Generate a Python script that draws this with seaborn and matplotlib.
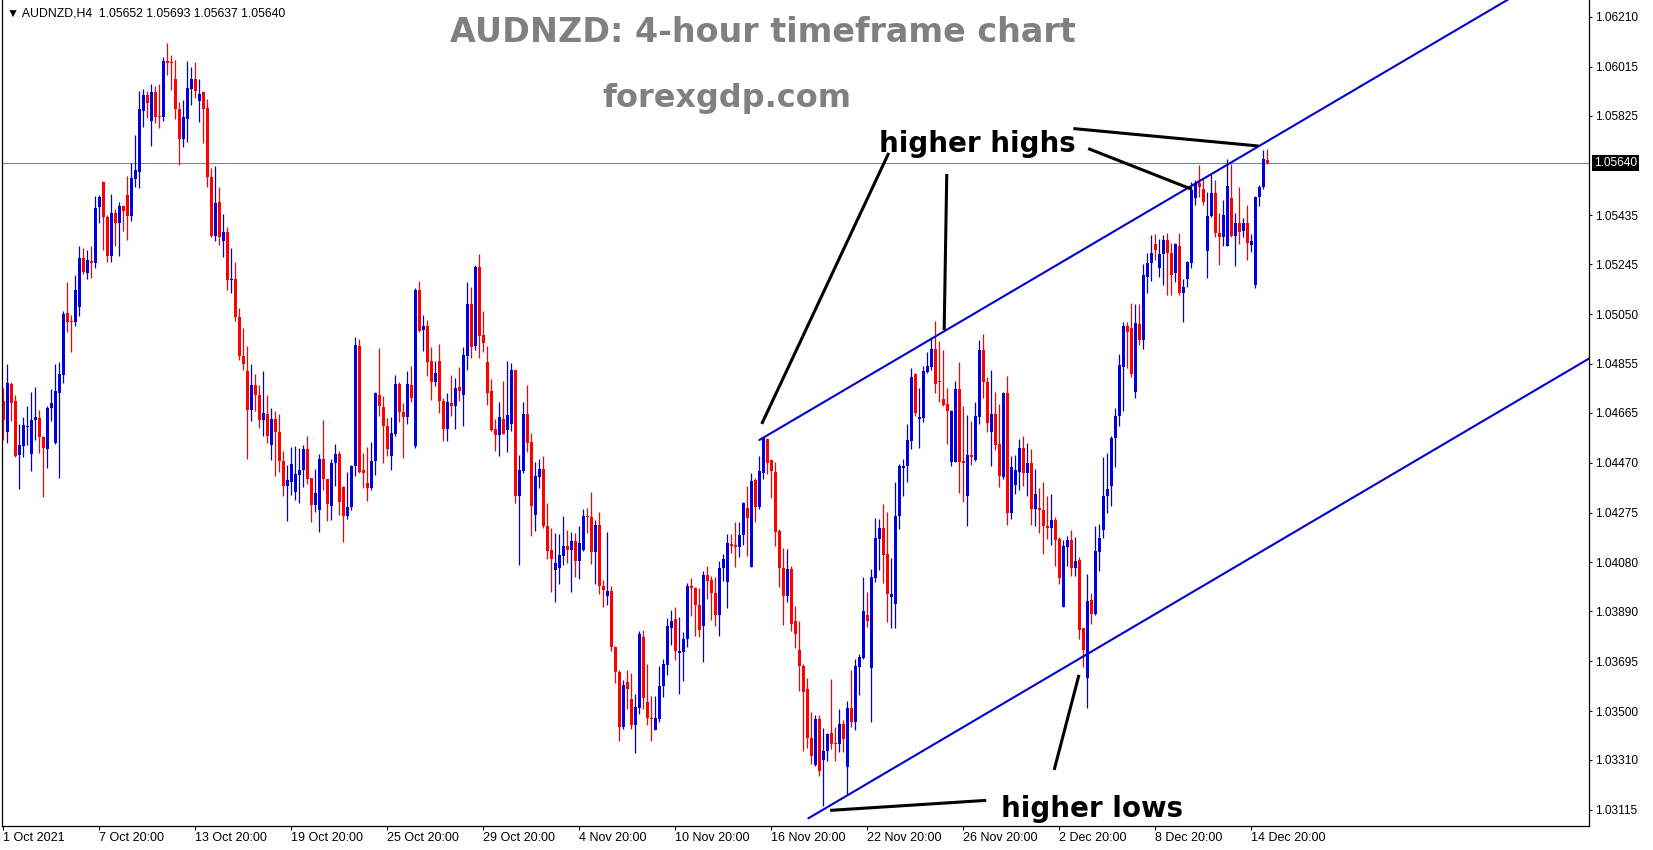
import numpy as np
import pandas as pd
import matplotlib
matplotlib.use('Agg')
import matplotlib.pyplot as plt
import matplotlib.transforms as mtransforms
import seaborn as sns

# AUDNZD H4 candles (bar 0 = first visible bar)
opens = [
    1.04709, 1.04589, 1.04778, 1.04709, 1.04498, 1.04534, 1.04609, 1.04505, 1.04635, 1.04644,
    1.04570, 1.04524, 1.04684, 1.04547, 1.04742, 1.04811, 1.05054, 1.05024, 1.05018, 1.05078,
    1.05269, 1.05210, 1.05258, 1.05249, 1.05467, 1.05565, 1.05428, 1.05275, 1.05444, 1.05405,
    1.05473, 1.05515, 1.05434, 1.05577, 1.05606, 1.05844, 1.05906, 1.05805, 1.05916, 1.05824,
    1.05818, 1.06038, 1.06032, 1.05967, 1.05852, 1.05733, 1.05813, 1.05930, 1.05967, 1.05883,
    1.05915, 1.05853, 1.05584, 1.05356, 1.05487, 1.05337, 1.05370, 1.05181, 1.05187, 1.05038,
    1.04888, 1.04827, 1.04674, 1.04774, 1.04735, 1.04635, 1.04661, 1.04537, 1.04642, 1.04590,
    1.04478, 1.04378, 1.04394, 1.04355, 1.04420, 1.04440, 1.04521, 1.04408, 1.04303, 1.04284,
    1.04482, 1.04404, 1.04302, 1.04468, 1.04504, 1.04374, 1.04263, 1.04296, 1.04455, 1.04926,
    1.04442, 1.04390, 1.04370, 1.04475, 1.04734, 1.04686, 1.04614, 1.04494, 1.04582, 1.04777,
    1.04669, 1.04647, 1.04774, 1.04533, 1.05144, 1.04988, 1.05004, 1.04867, 1.04786, 1.04867,
    1.04709, 1.04602, 1.04702, 1.04692, 1.04764, 1.04734, 1.04887, 1.05089, 1.04926, 1.05232,
    1.04967, 1.04863, 1.04750, 1.04601, 1.04579, 1.04639, 1.04598, 1.04621, 1.04832, 1.04338,
    1.04436, 1.04659, 1.04549, 1.04266, 1.04413, 1.04445, 1.04224, 1.04130, 1.04052, 1.04059,
    1.04107, 1.04146, 1.04127, 1.04165, 1.04085, 1.04127, 1.04263, 1.04256, 1.04121, 1.04228,
    1.03989, 1.03948, 1.03968, 1.03751, 1.03653, 1.03438, 1.03612, 1.03545, 1.03444, 1.03513,
    1.03790, 1.03537, 1.03472, 1.03427, 1.03469, 1.03596, 1.03680, 1.03823, 1.03858, 1.03728,
    1.03732, 1.03780, 1.03988, 1.03979, 1.03914, 1.03833, 1.04031, 1.04012, 1.03960, 1.03875,
    1.04057, 1.04002, 1.04152, 1.04148, 1.04142, 1.04187, 1.04291, 1.04064, 1.04402, 1.04298,
    1.04431, 1.04561, 1.04480, 1.04434, 1.04204, 1.04057, 1.03950, 1.04054, 1.03853, 1.03739,
    1.03677, 1.03584, 1.03395, 1.03288, 1.03470, 1.03308, 1.03344, 1.03415, 1.03373, 1.03370,
    1.03448, 1.03282, 1.03513, 1.03457, 1.03672, 1.03707, 1.03876, 1.03668, 1.04019, 1.04172,
    1.04215, 1.04114, 1.03945, 1.03919, 1.04260, 1.04449, 1.04455, 1.04553, 1.04817, 1.04640,
    1.04643, 1.04822, 1.04845, 1.04913, 1.04789, 1.04718, 1.04700, 1.04474, 1.04474, 1.04757,
    1.04478, 1.04341, 1.04500, 1.04481, 1.04647, 1.04910, 1.04783, 1.04591, 1.04660, 1.04543,
    1.04413, 1.04741, 1.04273, 1.04383, 1.04432, 1.04527, 1.04429, 1.04468, 1.04289, 1.04293,
    1.04286, 1.04224, 1.04215, 1.04247, 1.04172, 1.03906, 1.04140, 1.04169, 1.04059, 1.04091,
    1.03825, 1.03629, 1.03935, 1.03877, 1.04120, 1.04205, 1.04341, 1.04377, 1.04565, 1.04650,
    1.04845, 1.05004, 1.04997, 1.04747, 1.05011, 1.04949, 1.05196, 1.05250, 1.05323, 1.05228,
    1.05284, 1.05339, 1.05287, 1.05209, 1.05316, 1.05131, 1.05185, 1.05250, 1.05501, 1.05560,
    1.05540, 1.05297, 1.05433, 1.05523, 1.05367, 1.05352, 1.05316, 1.05501, 1.05355, 1.05404,
    1.05375, 1.05407, 1.05320, 1.05163, 1.05505, 1.05544, 1.05652,
]
highs = [
    1.04761, 1.04856, 1.04784, 1.04735, 1.04622, 1.04647, 1.04690, 1.04745, 1.04765, 1.04677,
    1.04573, 1.04690, 1.04758, 1.04853, 1.04862, 1.05061, 1.05174, 1.05048, 1.05203, 1.05317,
    1.05308, 1.05301, 1.05317, 1.05511, 1.05515, 1.05568, 1.05438, 1.05519, 1.05459, 1.05487,
    1.05477, 1.05587, 1.05639, 1.05750, 1.05922, 1.05928, 1.05919, 1.05948, 1.05941, 1.05948,
    1.06052, 1.06107, 1.06061, 1.06042, 1.05879, 1.05886, 1.06038, 1.06016, 1.06034, 1.05967,
    1.05919, 1.05889, 1.05619, 1.05629, 1.05545, 1.05441, 1.05389, 1.05308, 1.05253, 1.05073,
    1.04996, 1.04927, 1.04853, 1.04814, 1.04774, 1.04827, 1.04732, 1.04684, 1.04671, 1.04658,
    1.04515, 1.04459, 1.04530, 1.04534, 1.04528, 1.04537, 1.04573, 1.04411, 1.04446, 1.04505,
    1.04638, 1.04407, 1.04484, 1.04543, 1.04514, 1.04377, 1.04433, 1.04462, 1.04959, 1.04952,
    1.04507, 1.04530, 1.04551, 1.04747, 1.04918, 1.04728, 1.04644, 1.04647, 1.04812, 1.04783,
    1.04702, 1.04829, 1.04848, 1.05152, 1.05180, 1.05046, 1.05027, 1.04923, 1.04868, 1.04933,
    1.04722, 1.04741, 1.04812, 1.04799, 1.04842, 1.04923, 1.05176, 1.05157, 1.05243, 1.05284,
    1.05063, 1.04926, 1.04796, 1.04640, 1.04708, 1.04787, 1.04867, 1.04858, 1.04832, 1.04501,
    1.04705, 1.04774, 1.04585, 1.04474, 1.04485, 1.04496, 1.04312, 1.04215, 1.04195, 1.04192,
    1.04260, 1.04208, 1.04199, 1.04195, 1.04221, 1.04289, 1.04293, 1.04355, 1.04244, 1.04276,
    1.04010, 1.04198, 1.03987, 1.03753, 1.03659, 1.03620, 1.03662, 1.03649, 1.03568, 1.03812,
    1.03815, 1.03683, 1.03558, 1.03557, 1.03674, 1.03703, 1.03862, 1.03895, 1.03905, 1.03866,
    1.03810, 1.04001, 1.04018, 1.03986, 1.03979, 1.04047, 1.04066, 1.04027, 1.04022, 1.04087,
    1.04113, 1.04191, 1.04191, 1.04236, 1.04239, 1.04317, 1.04378, 1.04431, 1.04408, 1.04496,
    1.04568, 1.04565, 1.04480, 1.04473, 1.04209, 1.04135, 1.04132, 1.04067, 1.03910, 1.03853,
    1.03684, 1.03630, 1.03496, 1.03483, 1.03483, 1.03435, 1.03415, 1.03626, 1.03438, 1.03509,
    1.03464, 1.03539, 1.03662, 1.03704, 1.03724, 1.04022, 1.03964, 1.04055, 1.04253, 1.04250,
    1.04310, 1.04276, 1.04098, 1.04393, 1.04465, 1.04484, 1.04621, 1.04839, 1.04819, 1.04760,
    1.04848, 1.04900, 1.04960, 1.05024, 1.04946, 1.04910, 1.04760, 1.04676, 1.04787, 1.04861,
    1.04689, 1.04656, 1.04634, 1.04705, 1.04949, 1.04972, 1.04806, 1.04832, 1.04747, 1.04699,
    1.04744, 1.04809, 1.04494, 1.04500, 1.04562, 1.04575, 1.04546, 1.04523, 1.04445, 1.04370,
    1.04393, 1.04341, 1.04348, 1.04257, 1.04179, 1.04166, 1.04182, 1.04208, 1.04180, 1.04101,
    1.03825, 1.04036, 1.03961, 1.04224, 1.04231, 1.04491, 1.04507, 1.04572, 1.04682, 1.04894,
    1.05020, 1.05017, 1.05092, 1.05089, 1.05089, 1.05245, 1.05290, 1.05358, 1.05362, 1.05341,
    1.05358, 1.05365, 1.05326, 1.05329, 1.05367, 1.05185, 1.05258, 1.05566, 1.05575, 1.05631,
    1.05579, 1.05527, 1.05599, 1.05575, 1.05443, 1.05495, 1.05654, 1.05635, 1.05443, 1.05544,
    1.05423, 1.05475, 1.05362, 1.05511, 1.05553, 1.05690, 1.05693,
]
lows = [
    1.04557, 1.04547, 1.04632, 1.04492, 1.04365, 1.04491, 1.04540, 1.04437, 1.04557, 1.04508,
    1.04336, 1.04450, 1.04632, 1.04544, 1.04411, 1.04781, 1.04979, 1.04901, 1.05002, 1.05044,
    1.05208, 1.05187, 1.05191, 1.05230, 1.05407, 1.05298, 1.05252, 1.05252, 1.05314, 1.05278,
    1.05376, 1.05340, 1.05415, 1.05545, 1.05541, 1.05782, 1.05815, 1.05706, 1.05795, 1.05778,
    1.05802, 1.05983, 1.05925, 1.05811, 1.05632, 1.05704, 1.05720, 1.05867, 1.05893, 1.05798,
    1.05717, 1.05545, 1.05350, 1.05337, 1.05321, 1.05271, 1.05145, 1.05132, 1.05021, 1.04869,
    1.04831, 1.04482, 1.04632, 1.04670, 1.04603, 1.04573, 1.04547, 1.04479, 1.04417, 1.04433,
    1.04339, 1.04242, 1.04342, 1.04323, 1.04313, 1.04375, 1.04388, 1.04238, 1.04277, 1.04199,
    1.04362, 1.04242, 1.04247, 1.04377, 1.04266, 1.04159, 1.04249, 1.04286, 1.04419, 1.04429,
    1.04370, 1.04318, 1.04361, 1.04423, 1.04650, 1.04468, 1.04497, 1.04439, 1.04572, 1.04627,
    1.04487, 1.04621, 1.04705, 1.04526, 1.04981, 1.04904, 1.04809, 1.04715, 1.04767, 1.04663,
    1.04553, 1.04556, 1.04653, 1.04602, 1.04709, 1.04611, 1.04832, 1.04877, 1.04910, 1.04877,
    1.04903, 1.04695, 1.04595, 1.04517, 1.04497, 1.04580, 1.04510, 1.04595, 1.04312, 1.04071,
    1.04429, 1.04513, 1.04185, 1.04201, 1.04370, 1.04215, 1.04094, 1.03964, 1.03924, 1.03997,
    1.04071, 1.04078, 1.03964, 1.04023, 1.04016, 1.04124, 1.04195, 1.04075, 1.03997, 1.03958,
    1.03906, 1.03913, 1.03734, 1.03611, 1.03382, 1.03430, 1.03506, 1.03428, 1.03337, 1.03487,
    1.03509, 1.03445, 1.03384, 1.03424, 1.03459, 1.03554, 1.03641, 1.03758, 1.03699, 1.03567,
    1.03616, 1.03749, 1.03869, 1.03791, 1.03788, 1.03693, 1.03936, 1.03856, 1.03833, 1.03794,
    1.04009, 1.03902, 1.04116, 1.04064, 1.04103, 1.04148, 1.04106, 1.04064, 1.04239, 1.04288,
    1.04405, 1.04425, 1.04330, 1.04145, 1.03983, 1.03836, 1.03924, 1.03814, 1.03745, 1.03580,
    1.03342, 1.03357, 1.03292, 1.03285, 1.03246, 1.03129, 1.03305, 1.03350, 1.03305, 1.03340,
    1.03340, 1.03171, 1.03438, 1.03425, 1.03564, 1.03704, 1.03828, 1.03457, 1.04003, 1.04049,
    1.04000, 1.03847, 1.03825, 1.03825, 1.04211, 1.04341, 1.04393, 1.04523, 1.04650, 1.04527,
    1.04630, 1.04819, 1.04832, 1.04741, 1.04708, 1.04692, 1.04543, 1.04458, 1.04471, 1.04351,
    1.04315, 1.04224, 1.04461, 1.04478, 1.04621, 1.04721, 1.04591, 1.04458, 1.04520, 1.04374,
    1.04405, 1.04227, 1.04249, 1.04348, 1.04361, 1.04379, 1.04341, 1.04227, 1.04224, 1.04195,
    1.04114, 1.04172, 1.04150, 1.04068, 1.03994, 1.03906, 1.04065, 1.04029, 1.04029, 1.03782,
    1.03672, 1.03512, 1.03838, 1.03873, 1.04045, 1.04175, 1.04273, 1.04302, 1.04452, 1.04614,
    1.04670, 1.04839, 1.04806, 1.04721, 1.04929, 1.04912, 1.05133, 1.05180, 1.05261, 1.05196,
    1.05163, 1.05124, 1.05124, 1.05176, 1.05124, 1.05020, 1.05156, 1.05228, 1.05475, 1.05508,
    1.05475, 1.05189, 1.05427, 1.05352, 1.05241, 1.05316, 1.05316, 1.05349, 1.05237, 1.05323,
    1.05352, 1.05261, 1.05294, 1.05150, 1.05471, 1.05540, 1.05637,
]
closes = [
    1.04638, 1.04781, 1.04703, 1.04495, 1.04537, 1.04615, 1.04612, 1.04638, 1.04648, 1.04570,
    1.04526, 1.04684, 1.04703, 1.04748, 1.04814, 1.05051, 1.05018, 1.05018, 1.05145, 1.05269,
    1.05213, 1.05260, 1.05249, 1.05463, 1.05506, 1.05428, 1.05275, 1.05444, 1.05407, 1.05473,
    1.05454, 1.05434, 1.05580, 1.05613, 1.05850, 1.05906, 1.05873, 1.05916, 1.05821, 1.05818,
    1.06038, 1.06029, 1.06029, 1.05852, 1.05733, 1.05818, 1.05932, 1.05967, 1.05919, 1.05909,
    1.05852, 1.05584, 1.05356, 1.05483, 1.05350, 1.05370, 1.05181, 1.05188, 1.05038, 1.04885,
    1.04853, 1.04674, 1.04774, 1.04732, 1.04635, 1.04664, 1.04575, 1.04641, 1.04589, 1.04476,
    1.04378, 1.04400, 1.04463, 1.04424, 1.04439, 1.04521, 1.04407, 1.04304, 1.04350, 1.04482,
    1.04404, 1.04307, 1.04468, 1.04503, 1.04315, 1.04263, 1.04296, 1.04458, 1.04930, 1.04435,
    1.04429, 1.04370, 1.04478, 1.04741, 1.04689, 1.04611, 1.04523, 1.04585, 1.04777, 1.04669,
    1.04647, 1.04777, 1.04722, 1.05144, 1.04985, 1.05004, 1.04864, 1.04783, 1.04819, 1.04709,
    1.04602, 1.04706, 1.04692, 1.04760, 1.04751, 1.04890, 1.05089, 1.04923, 1.05235, 1.04964,
    1.04936, 1.04741, 1.04598, 1.04579, 1.04646, 1.04582, 1.04654, 1.04832, 1.04341, 1.04440,
    1.04659, 1.04546, 1.04299, 1.04416, 1.04445, 1.04221, 1.04126, 1.04094, 1.04078, 1.04111,
    1.04146, 1.04127, 1.04165, 1.04085, 1.04154, 1.04263, 1.04256, 1.04121, 1.04228, 1.03987,
    1.03971, 1.03968, 1.03749, 1.03652, 1.03438, 1.03603, 1.03586, 1.03444, 1.03516, 1.03801,
    1.03550, 1.03472, 1.03469, 1.03472, 1.03599, 1.03684, 1.03833, 1.03853, 1.03736, 1.03736,
    1.03780, 1.03988, 1.03979, 1.03914, 1.03817, 1.04031, 1.04009, 1.03960, 1.03875, 1.04057,
    1.04093, 1.04155, 1.04146, 1.04142, 1.04187, 1.04313, 1.04252, 1.04398, 1.04298, 1.04438,
    1.04565, 1.04470, 1.04438, 1.04200, 1.04057, 1.03950, 1.04054, 1.03840, 1.03801, 1.03677,
    1.03576, 1.03395, 1.03324, 1.03470, 1.03266, 1.03344, 1.03409, 1.03370, 1.03370, 1.03448,
    1.03392, 1.03513, 1.03457, 1.03675, 1.03711, 1.03890, 1.03850, 1.04023, 1.04175, 1.04215,
    1.04111, 1.03955, 1.03955, 1.04263, 1.04455, 1.04458, 1.04559, 1.04806, 1.04663, 1.04647,
    1.04829, 1.04848, 1.04913, 1.04777, 1.04786, 1.04696, 1.04673, 1.04673, 1.04757, 1.04474,
    1.04468, 1.04500, 1.04491, 1.04650, 1.04910, 1.04783, 1.04624, 1.04660, 1.04539, 1.04416,
    1.04741, 1.04273, 1.04452, 1.04439, 1.04527, 1.04429, 1.04468, 1.04289, 1.04348, 1.04283,
    1.04221, 1.04216, 1.04247, 1.04166, 1.04020, 1.04143, 1.04166, 1.04059, 1.04085, 1.03818,
    1.03740, 1.03929, 1.03877, 1.04123, 1.04175, 1.04341, 1.04367, 1.04565, 1.04653, 1.04852,
    1.05004, 1.04981, 1.04816, 1.05014, 1.04949, 1.05202, 1.05251, 1.05287, 1.05300, 1.05284,
    1.05339, 1.05287, 1.05202, 1.05323, 1.05131, 1.05154, 1.05254, 1.05536, 1.05560, 1.05544,
    1.05488, 1.05433, 1.05523, 1.05367, 1.05352, 1.05436, 1.05550, 1.05355, 1.05404, 1.05371,
    1.05404, 1.05326, 1.05336, 1.05505, 1.05544, 1.05654, 1.05640,
]

# x axis labels (every 24 bars) and price scale labels
x_labels = ['1 Oct 2021', '7 Oct 20:00', '13 Oct 20:00', '19 Oct 20:00', '25 Oct 20:00',
            '29 Oct 20:00', '4 Nov 20:00', '10 Nov 20:00', '16 Nov 20:00', '22 Nov 20:00',
            '26 Nov 20:00', '2 Dec 20:00', '8 Dec 20:00', '14 Dec 20:00']
y_ticks = [1.06210, 1.06015, 1.05825, 1.05435, 1.05245, 1.05050, 1.04855, 1.04665,
           1.04470, 1.04275, 1.04080, 1.03890, 1.03695, 1.03500, 1.03310, 1.03115]
last_price = 1.05640

# drawn objects: channel (ray to the right) and pointer lines, in (bar, price)
upper_channel = ([189, 316], [1.04558, 1.05725])
lower_channel = ([201.25, 281.7], [1.03081, 1.03821])
pointer_lines = [
    ([221.35, 189.6], [1.05679, 1.04621]),
    ([235.85, 235.2], [1.05597, 1.04988]),
    ([271.2, 297.1], [1.05696, 1.05537]),
    ([267.5, 313.75], [1.05774, 1.05706]),
    ([206.7, 245.7], [1.03112, 1.03151]),
    ([262.7, 268.9], [1.03270, 1.03641]),
]

n = len(closes)
assert len(opens) == n and len(highs) == n and len(lows) == n

df = pd.DataFrame({'open': opens, 'high': highs, 'low': lows, 'close': closes})
df['bar'] = np.arange(n)
df['up'] = df['close'] >= df['open']
df['body_lo'] = df[['open', 'close']].min(axis=1)
df['body_h'] = (df['close'] - df['open']).abs().clip(lower=0.00004)

BLUE = '#0000dd'
RED = '#ff0000'
LINE_BLUE = '#0000cd'

sns.set_theme(style='white')
plt.rcParams['font.family'] = ['Liberation Sans', 'DejaVu Sans']

W, H = 1653, 850
fig = plt.figure(figsize=(W / 100, H / 100), dpi=100)
ax = fig.add_axes([2 / W, 24 / H, 1587 / W, 826 / H])
ax.set_facecolor('white')

colors = np.where(df['up'], BLUE, RED)
ax.vlines(df['bar'], df['low'], df['high'], colors=colors, linewidth=0.9)
ax.bar(df['bar'], df['body_h'], bottom=df['body_lo'], width=0.75,
       color=colors, linewidth=0, antialiased=False)

ax.axhline(last_price, color='#778899', linewidth=0.8, zorder=0)

x_max = 396.4


def ray(pts, xend):
    xs, ys = pts
    slope = (ys[1] - ys[0]) / (xs[1] - xs[0])
    return [xs[0], xend], [ys[0], ys[0] + slope * (xend - xs[0])]


for ch in (upper_channel, lower_channel):
    rx, ry = ray(ch, x_max + 5)
    ax.plot(rx, ry, color=LINE_BLUE, linewidth=1.5)

for lx, ly in pointer_lines:
    ax.plot(lx, ly, color='black', linewidth=2.2, solid_capstyle='butt')

ax.text(243.4, 1.05683, 'higher highs', ha='center', va='baseline',
        fontsize=20, fontweight='bold', family='DejaVu Sans', color='black')
ax.text(272.1, 1.03086, 'higher lows', ha='center', va='baseline',
        fontsize=20, fontweight='bold', family='DejaVu Sans', color='black')

ax.set_xlim(-0.33, x_max)
ax.set_ylim(1.03051, 1.06276)

ax.set_xticks(np.arange(len(x_labels)) * 24)
ax.set_xticklabels(x_labels)
for lab in ax.get_xticklabels():
    lab.set_horizontalalignment('left')
ax.yaxis.tick_right()
ax.set_yticks(y_ticks)
ax.set_yticklabels(['%.5f' % v for v in y_ticks])
ax.tick_params(axis='x', direction='out', length=3, width=0.8, pad=1.5,
               labelsize=9, colors='black', bottom=True)
ax.tick_params(axis='y', direction='out', length=2.5, width=0.8, pad=2,
               labelsize=8.6, colors='black', right=True, left=False)

for side in ('left', 'bottom', 'right'):
    ax.spines[side].set_color('black')
    ax.spines[side].set_linewidth(0.9)
ax.spines['top'].set_visible(False)

# current price tag on the price scale
trans = mtransforms.blended_transform_factory(ax.transAxes, ax.transData)
ax.text(1.0 + 5 / 1587, last_price, '%.5f' % last_price, transform=trans,
        ha='left', va='center', fontsize=8.6, color='white', clip_on=False,
        bbox=dict(boxstyle='square,pad=0.15', fc='black', ec='none'))

fig.text(7 / W, 1 - 13 / H, '\u25bc AUDNZD,H4  1.05652 1.05693 1.05637 1.05640',
         ha='left', va='center', fontsize=8.8, color='black')
fig.text(762.7 / W, 1 - 42 / H, 'AUDNZD: 4-hour timeframe chart', ha='center',
         va='baseline', fontsize=24, fontweight='bold', color='#808080',
         family='DejaVu Sans')
fig.text(726.4 / W, 1 - 107.5 / H, 'forexgdp.com', ha='center', va='baseline',
         fontsize=23, fontweight='bold', color='#808080', family='DejaVu Sans')

fig.savefig('out.png', dpi=100, facecolor='white')
